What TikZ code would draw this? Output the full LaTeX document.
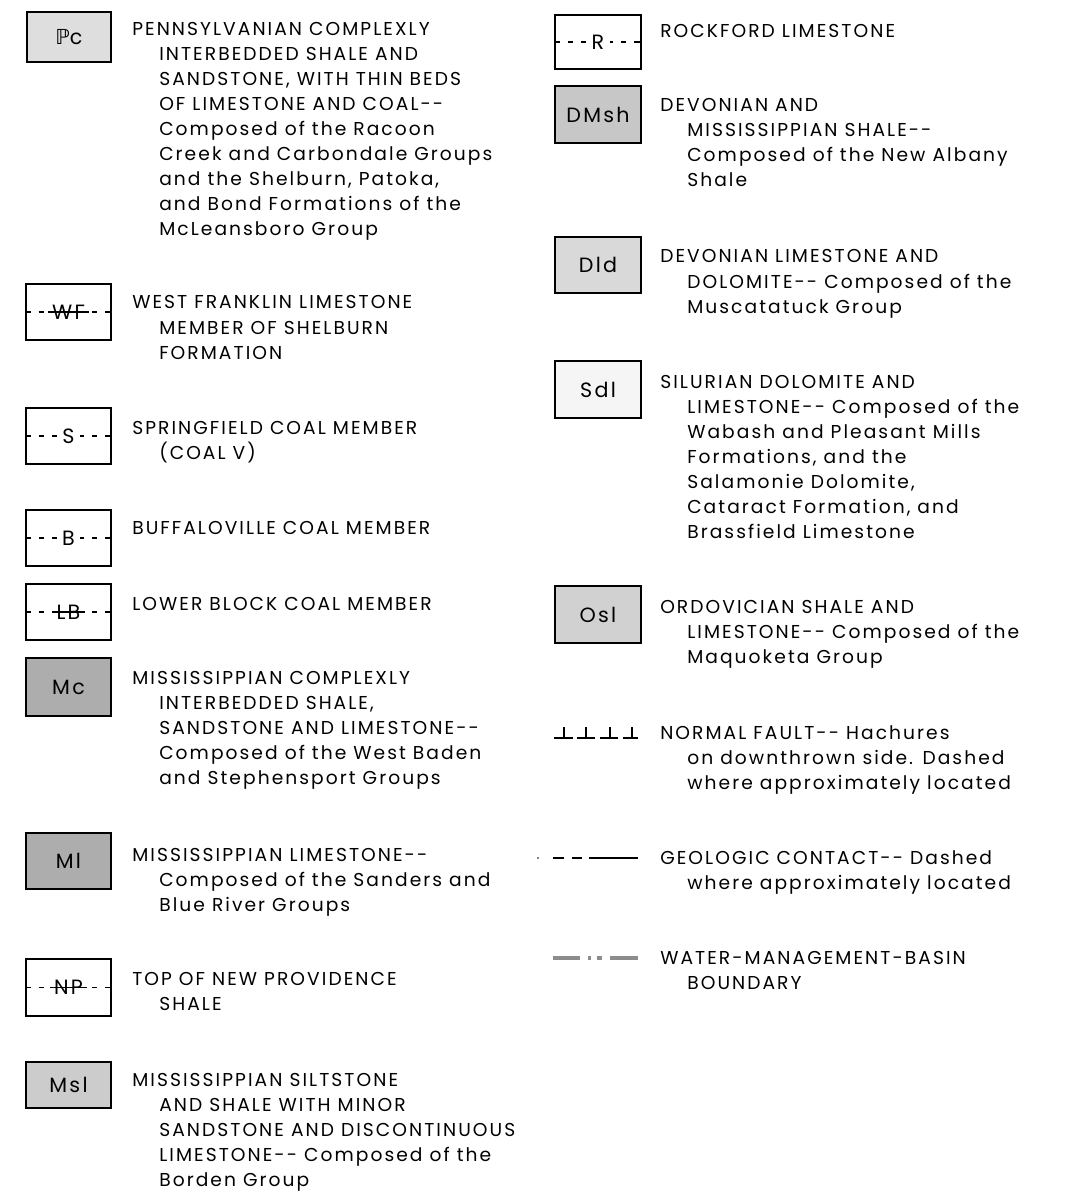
\documentclass[tikz,border=0pt]{standalone}
\usepackage{fontspec}
\setmainfont{Poppins}[LetterSpace=11]
\newfontfamily\djv{DejaVu Sans}
\begin{document}
\begin{tikzpicture}[x=0.75pt,y=-0.75pt,
  txt/.style={font=\fontsize{14}{16}\selectfont, inner sep=0pt, anchor=base west},
  boxs/.style={draw, line width=1.1pt, inner sep=0pt, font=\fontsize{15.5}{17}\selectfont},
  lbl/.style={font=\fontsize{15.5}{17}\selectfont, inner sep=1.5pt},
  dsh/.style={line width=0.9pt, dash pattern=on 4pt off 6pt},
  sym/.style={line width=1.1pt},
]
\useasboundingbox (0,0) rectangle (1075,1194);

\newcommand\legtxt[4]{\foreach \l [count=\i from 0] in {#4}{\node[txt] (#1-t\i) at ({#2+ifthenelse(\i>0,27,0)},{#3+6+25*\i}) {\l};}}
\newcommand\gbox[7]{\node[boxs, fill=#6, minimum width={(#4-#2)*0.75pt}, minimum height={(#5-#3)*0.75pt}] (#1) at ({(#2+#4)/2},{(#3+#5)/2}) {#7};}
% gap-type line box
\newcommand\gapbox[6]{\node[boxs, fill=white, minimum width={(#4-#2)*0.75pt}, minimum height={(#5-#3)*0.75pt}] (#1) at ({(#2+#4)/2},{(#3+#5)/2}) {};
  \draw[dsh] (#1.west) -- (#1.east);
  \node[lbl, fill=white, inner xsep=4pt] (#1-l) at (#1.center) {#6};}
% overstruck line box
\newcommand\strbox[6]{\node[boxs, fill=white, minimum width={(#4-#2)*0.75pt}, minimum height={(#5-#3)*0.75pt}] (#1) at ({(#2+#4)/2},{(#3+#5)/2}) {};
  \draw[dsh] (#1.west) -- (#1.east);
  \node[lbl, fill=white, inner xsep=3pt] (#1-l) at (#1.center) {#6};
  \draw[line width=0.9pt] (#1-l.west) -- (#1-l.east);}

% ---------- left column ----------
\gbox{pc}{27}{12}{111}{62}{black!13}{{\djv ℙ}c}
\legtxt{pc}{132}{30}{PENNSYLVANIAN COMPLEXLY, INTERBEDDED SHALE AND, {SANDSTONE, WITH THIN BEDS}, OF LIMESTONE AND COAL-{}-, Composed of the Racoon, Creek and Carbondale Groups, {and the Shelburn, Patoka,}, and Bond Formations of the, McLeansboro Group}

\strbox{wf}{26}{284}{111}{340}{WF}
\legtxt{wf}{132}{303}{WEST FRANKLIN LIMESTONE, MEMBER OF SHELBURN, FORMATION}

\gapbox{s}{26}{408}{111}{464}{S}
\legtxt{s}{132}{428}{SPRINGFIELD COAL MEMBER, (COAL V)}

\gapbox{b}{26}{510}{111}{566}{B}
\legtxt{b}{132}{528}{BUFFALOVILLE COAL MEMBER}

\strbox{lb}{26}{584}{111}{640}{LB}
\legtxt{lb}{132}{604}{LOWER BLOCK COAL MEMBER}

\gbox{mc}{26}{658}{111}{716}{black!32}{Mc}
\legtxt{mc}{132}{678}{MISSISSIPPIAN COMPLEXLY, {INTERBEDDED SHALE,}, SANDSTONE AND LIMESTONE-{}-, Composed of the West Baden, and Stephensport Groups}

\gbox{ml}{26}{833}{111}{889}{black!32}{Ml}
\legtxt{ml}{132}{855}{MISSISSIPPIAN LIMESTONE-{}-, Composed of the Sanders and, Blue River Groups}

\strbox{np}{26}{959}{111}{1016}{NP}
\legtxt{np}{132}{979}{TOP OF NEW PROVIDENCE, SHALE}

\gbox{msl}{26}{1062}{111}{1108}{black!20}{Msl}
\legtxt{msl}{132}{1080}{MISSISSIPPIAN SILTSTONE, AND SHALE WITH MINOR, SANDSTONE AND DISCONTINUOUS, LIMESTONE-{}- Composed of the, Borden Group}

% ---------- right column ----------
\gapbox{r}{555}{15}{641}{69}{R}
\legtxt{r}{660}{32}{ROCKFORD LIMESTONE}

\gbox{dmsh}{555}{86}{641}{143}{black!22}{DMsh}
\legtxt{dmsh}{660}{106}{DEVONIAN AND, MISSISSIPPIAN SHALE-{}-, Composed of the New Albany, Shale}

\gbox{dld}{555}{237}{641}{293}{black!15}{Dld}
\legtxt{dld}{660}{257}{DEVONIAN LIMESTONE AND, DOLOMITE-{}- Composed of the, Muscatatuck Group}

\gbox{sdl}{555}{361}{641}{418}{black!4}{Sdl}
\legtxt{sdl}{660}{382}{SILURIAN DOLOMITE AND, LIMESTONE-{}- Composed of the, Wabash and Pleasant Mills, {Formations, and the}, {Salamonie Dolomite,}, {Cataract Formation, and}, Brassfield Limestone}

\gbox{osl}{555}{586}{641}{643}{black!18}{Osl}
\legtxt{osl}{660}{607}{ORDOVICIAN SHALE AND, LIMESTONE-{}- Composed of the, Maquoketa Group}

% normal fault symbol
\foreach \a/\b/\t [count=\k] in {554/573/564, 577/595/586, 600/618/610, 623/638/632}{
  \coordinate (f\k a) at (\a,738); \coordinate (f\k b) at (\b,738);
  \coordinate (f\k t) at (\t,738); \coordinate (f\k u) at (\t,727);
  \draw[sym] (f\k a) -- (f\k b); \draw[sym] (f\k t) -- (f\k u);}
\legtxt{fault}{660}{733}{NORMAL FAULT-{}- Hachures, on downthrown side. Dashed, where approximately located}

% geologic contact symbol
\coordinate (c0) at (538,858);
\fill (c0) circle (0.8);
\foreach \a/\b [count=\k] in {553/564, 572/582, 589/638}{
  \coordinate (c\k a) at (\a,858); \coordinate (c\k b) at (\b,858);
  \draw[sym] (c\k a) -- (c\k b);}
\legtxt{contact}{660}{858}{GEOLOGIC CONTACT-{}- Dashed, where approximately located}

% water-management-basin boundary
\foreach \a/\b [count=\k] in {553/580, 588/591, 597/602, 610/638}{
  \coordinate (w\k a) at (\a,958); \coordinate (w\k b) at (\b,958);
  \draw[line width=3pt, black!45] (w\k a) -- (w\k b);}
\legtxt{water}{660}{958}{WATER-MANAGEMENT-BASIN, BOUNDARY}
\end{tikzpicture}
\end{document}
